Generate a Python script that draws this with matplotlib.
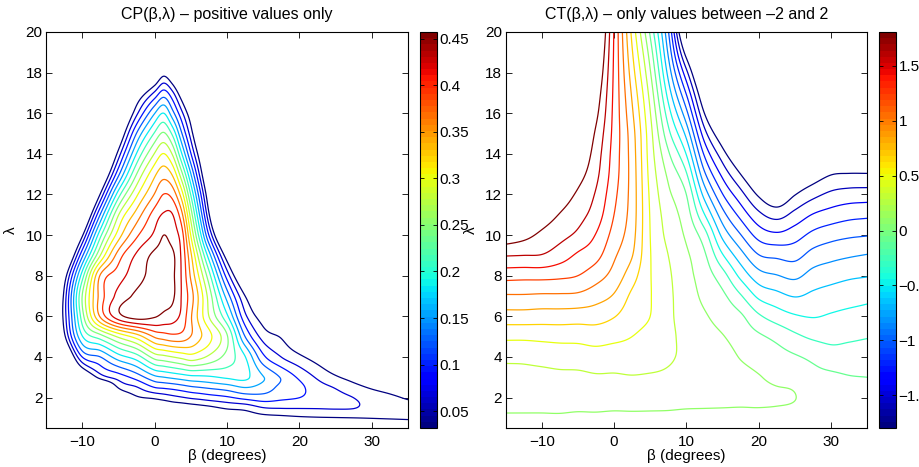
import numpy as np
import matplotlib
matplotlib.use("Agg")
import matplotlib.pyplot as plt
from matplotlib import cm, colors

plt.rcParams['font.family'] = ['Liberation Sans', 'DejaVu Sans']
plt.rcParams['font.size'] = 11

#CP table (negative outside the plotted region), one row per tip speed ratio
cp_beta = [-15, -12.5, -10, -7.5, -5, -2.5, 0, 1.25, 2.5, 3.75, 5, 6.25, 7.5, 10, 12.5, 15, 17.5, 20, 22.5, 25, 27.5, 30, 32.5, 35]
cp_lam = [0, 0.5, 1, 1.5, 2, 2.5, 3, 4, 5, 6, 7, 8, 9, 10, 11, 12, 13, 14, 15, 16, 17, 18, 19, 20]
cp_rows = [
    [0, 0, 0, 0, 0, 0, 0, 0, 0, 0, 0, 0, 0, 0, 0, 0, 0, 0, 0, 0, 0, 0, 0, 0],
    [-0.1, -0.08, -0.06, -0.045, -0.03, -0.02, -0.015, -0.012, -0.01, -0.008, -0.006, -0.004, -0.002, 0.0, 0.003, 0.005, 0.007, 0.008, 0.009, 0.01, 0.011, 0.012, 0.012, 0.013],
    [-0.2, -0.16, -0.12, -0.09, -0.06, -0.04, -0.03, -0.025, -0.02, -0.015, -0.01, -0.005, 0.0, 0.005, 0.012, 0.02, 0.024, 0.028, 0.03, 0.031, 0.032, 0.033, 0.034, 0.035],
    [-0.25, -0.2, -0.15, -0.1, -0.06, -0.03, -0.005, 0.0, 0.007, 0.01, 0.015, 0.02, 0.025, 0.037, 0.043, 0.062, 0.065, 0.065, 0.065, 0.066, 0.064, 0.052, 0.046, 0.042],
    [-0.25, -0.19, -0.13, -0.07, -0.014, 0.026, 0.038, 0.045, 0.053, 0.06, 0.067, 0.072, 0.078, 0.088, 0.103, 0.11, 0.1, 0.093, 0.08, 0.072, 0.062, 0.047, 0.037, 0.029],
    [-0.27, -0.22, -0.15, -0.06, 0.035, 0.06, 0.093, 0.098, 0.103, 0.11, 0.118, 0.123, 0.128, 0.138, 0.154, 0.14, 0.115, 0.1, 0.075, 0.06, 0.041, 0.029, 0.022, 0.018],
    [-0.2, -0.13, -0.036, 0.045, 0.075, 0.105, 0.145, 0.153, 0.16, 0.167, 0.174, 0.176, 0.179, 0.188, 0.19, 0.155, 0.12, 0.087, 0.058, 0.036, 0.022, 0.015, 0.01, 0.008],
    [-0.18, -0.059, 0.093, 0.123, 0.17, 0.2, 0.257, 0.266, 0.275, 0.284, 0.293, 0.284, 0.269, 0.233, 0.185, 0.1, 0.062, 0.038, 0.017, -0.005, -0.015, -0.02, -0.025, -0.03],
    [-0.18, 0.02, 0.181, 0.23, 0.28, 0.318, 0.37, 0.38, 0.387, 0.384, 0.365, 0.34, 0.315, 0.248, 0.123, 0.05, 0.029, -0.004, -0.02, -0.035, -0.045, -0.05, -0.055, -0.06],
    [-0.123, 0.044, 0.23, 0.37, 0.445, 0.47, 0.46, 0.449, 0.44, 0.418, 0.37, 0.322, 0.275, 0.19, 0.07, 0.015, -0.004, -0.04, -0.055, -0.07, -0.08, -0.085, -0.09, -0.09],
    [-0.15, 0.04, 0.245, 0.378, 0.436, 0.462, 0.468, 0.468, 0.462, 0.424, 0.38, 0.324, 0.263, 0.14, 0.032, -0.02, -0.035, -0.075, -0.09, -0.1, -0.11, -0.12, -0.12, -0.12],
    [-0.175, 0.007, 0.199, 0.369, 0.412, 0.445, 0.467, 0.467, 0.462, 0.423, 0.361, 0.296, 0.227, 0.08, -0.03, -0.08, -0.11, -0.13, -0.14, -0.15, -0.15, -0.15, -0.15, -0.15],
    [-0.24, -0.073, 0.116, 0.275, 0.38, 0.431, 0.464, 0.466, 0.462, 0.42, 0.342, 0.255, 0.169, 0.01, -0.1, -0.15, -0.17, -0.18, -0.18, -0.18, -0.18, -0.18, -0.18, -0.18],
    [-0.36, -0.17, 0.025, 0.205, 0.32, 0.39, 0.433, 0.457, 0.442, 0.409, 0.304, 0.198, 0.092, -0.08, -0.18, -0.21, -0.21, -0.21, -0.21, -0.21, -0.21, -0.21, -0.21, -0.21],
    [-0.36, -0.3, -0.07, 0.125, 0.273, 0.348, 0.41, 0.43, 0.427, 0.374, 0.262, 0.149, 0.037, -0.17, -0.24, -0.24, -0.24, -0.24, -0.24, -0.24, -0.24, -0.24, -0.24, -0.24],
    [-0.36, -0.32, -0.15, 0.035, 0.2, 0.299, 0.368, 0.397, 0.384, 0.319, 0.212, 0.105, -0.002, -0.217, -0.27, -0.27, -0.27, -0.27, -0.27, -0.27, -0.27, -0.27, -0.27, -0.27],
    [-0.36, -0.3, -0.21, -0.05, 0.115, 0.244, 0.329, 0.354, 0.33, 0.253, 0.155, 0.056, -0.043, -0.24, -0.3, -0.3, -0.3, -0.3, -0.3, -0.3, -0.3, -0.3, -0.3, -0.3],
    [-0.36, -0.33, -0.26, -0.12, 0.045, 0.185, 0.277, 0.306, 0.27, 0.185, 0.095, 0.012, -0.07, -0.235, -0.33, -0.33, -0.33, -0.33, -0.33, -0.33, -0.33, -0.33, -0.33, -0.33],
    [-0.36, -0.33, -0.29, -0.17, -0.02, 0.124, 0.218, 0.248, 0.206, 0.125, 0.048, -0.031, -0.11, -0.27, -0.36, -0.36, -0.36, -0.36, -0.36, -0.36, -0.36, -0.36, -0.36, -0.36],
    [-0.36, -0.35, -0.31, -0.2, -0.072, 0.054, 0.152, 0.184, 0.133, 0.07, 0.007, -0.057, -0.12, -0.247, -0.36, -0.36, -0.36, -0.36, -0.36, -0.36, -0.36, -0.36, -0.36, -0.36],
    [-0.36, -0.33, -0.3, -0.17, -0.09, -0.008, 0.068, 0.105, 0.068, 0.004, -0.059, -0.123, -0.187, -0.31, -0.36, -0.36, -0.36, -0.36, -0.36, -0.36, -0.36, -0.36, -0.36, -0.36],
    [-0.36, -0.36, -0.33, -0.27, -0.2, -0.12, -0.03, 0.017, -0.02, -0.09, -0.15, -0.21, -0.27, -0.36, -0.36, -0.36, -0.36, -0.36, -0.36, -0.36, -0.36, -0.36, -0.36, -0.36],
    [-0.36, -0.36, -0.36, -0.33, -0.26, -0.18, -0.1, -0.06, -0.09, -0.15, -0.21, -0.27, -0.33, -0.36, -0.36, -0.36, -0.36, -0.36, -0.36, -0.36, -0.36, -0.36, -0.36, -0.36],
    [-0.36, -0.36, -0.36, -0.36, -0.34, -0.27, -0.19, -0.14, -0.17, -0.23, -0.29, -0.34, -0.36, -0.36, -0.36, -0.36, -0.36, -0.36, -0.36, -0.36, -0.36, -0.36, -0.36, -0.36],
]

#CT table
ct_beta = [-15, -12.5, -10, -7.5, -5, -2.5, 0, 2.5, 5, 7.5, 10, 12.5, 15, 17.5, 20, 22.5, 25, 27.5, 30, 32.5, 35]
ct_lam = [0, 1, 2, 3, 4, 5, 6, 7, 8, 9, 10, 11, 12, 13, 14, 15, 16, 17, 18, 19, 20]
ct_rows = [
    [0.02, 0.02, 0.02, 0.02, 0.02, 0.02, 0.02, 0.02, 0.01, 0.01, 0.01, 0.01, 0.005, 0.005, 0.005, 0.005, 0.005, 0.005, 0.005, 0.005, 0.005],
    [0.08, 0.08, 0.08, 0.08, 0.07, 0.07, 0.06, 0.06, 0.06, 0.06, 0.05, 0.05, 0.05, 0.05, 0.05, 0.04, 0.03, 0.01, 0.01, 0.01, 0.01],
    [0.17, 0.17, 0.17, 0.18, 0.18, 0.19, 0.19, 0.20, 0.19, 0.18, 0.17, 0.16, 0.15, 0.14, 0.14, 0.13, 0.105, 0.02, 0.01, 0.01, 0.01],
    [0.23, 0.24, 0.24, 0.25, 0.25, 0.27, 0.27, 0.28, 0.27, 0.26, 0.24, 0.21, 0.18, 0.15, 0.11, 0.06, 0.04, -0.03, -0.05, -0.08, -0.09],
    [0.33, 0.33, 0.35, 0.37, 0.38, 0.40, 0.38, 0.385, 0.37, 0.31, 0.26, 0.20, 0.17, 0.09, 0.03, -0.02, -0.07, -0.13, -0.20, -0.20, -0.19],
    [0.52, 0.52, 0.53, 0.54, 0.54, 0.56, 0.53, 0.48, 0.42, 0.33, 0.24, 0.17, 0.11, 0.02, -0.06, -0.14, -0.24, -0.31, -0.33, -0.31, -0.29],
    [0.78, 0.78, 0.77, 0.77, 0.76, 0.75, 0.68, 0.56, 0.48, 0.33, 0.21, 0.12, 0.03, -0.06, -0.25, -0.37, -0.45, -0.48, -0.45, -0.42, -0.40],
    [1.03, 1.03, 1.02, 1.02, 1.01, 0.94, 0.84, 0.63, 0.49, 0.33, 0.19, 0.06, -0.05, -0.26, -0.51, -0.60, -0.67, -0.62, -0.58, -0.55, -0.52],
    [1.31, 1.30, 1.30, 1.28, 1.24, 1.13, 0.98, 0.75, 0.49, 0.32, 0.16, 0.01, -0.20, -0.52, -0.77, -0.84, -0.89, -0.78, -0.73, -0.69, -0.67],
    [1.63, 1.62, 1.61, 1.52, 1.40, 1.30, 1.08, 0.87, 0.49, 0.29, 0.13, -0.06, -0.45, -0.77, -1.03, -1.08, -1.10, -0.97, -0.91, -0.87, -0.84],
    [1.94, 1.87, 1.77, 1.68, 1.58, 1.42, 1.17, 0.93, 0.48, 0.24, 0.07, -0.20, -0.71, -1.03, -1.30, -1.38, -1.31, -1.18, -1.11, -1.07, -1.05],
    [2.11, 2.04, 1.92, 1.80, 1.69, 1.53, 1.24, 0.96, 0.47, 0.20, 0.00, -0.46, -0.96, -1.29, -1.56, -1.68, -1.55, -1.41, -1.34, -1.29, -1.27],
    [2.23, 2.19, 2.06, 1.92, 1.78, 1.60, 1.29, 0.97, 0.45, 0.14, -0.09, -0.73, -1.22, -1.54, -1.83, -2.00, -1.81, -1.67, -1.57, -1.53, -1.52],
    [2.30, 2.28, 2.17, 2.03, 1.89, 1.67, 1.33, 0.97, 0.42, 0.06, -0.26, -1.00, -1.47, -1.80, -2.09, -2.31, -2.07, -1.93, -1.81, -1.79, -1.79],
    [2.35, 2.35, 2.26, 2.13, 2.00, 1.72, 1.35, 0.96, 0.39, -0.06, -0.48, -1.26, -1.72, -2.06, -2.35, -2.45, -2.32, -2.20, -2.05, -2.05, -2.05],
    [2.40, 2.40, 2.33, 2.21, 2.08, 1.78, 1.37, 0.94, 0.36, -0.22, -0.72, -1.53, -1.98, -2.31, -2.45, -2.50, -2.45, -2.40, -2.30, -2.30, -2.30],
    [2.40, 2.40, 2.38, 2.28, 2.14, 1.86, 1.38, 0.89, 0.30, -0.38, -0.98, -1.80, -2.23, -2.45, -2.50, -2.50, -2.50, -2.50, -2.45, -2.45, -2.45],
    [2.40, 2.40, 2.40, 2.33, 2.19, 1.93, 1.39, 0.83, 0.22, -0.55, -1.25, -2.05, -2.45, -2.50, -2.50, -2.50, -2.50, -2.50, -2.50, -2.50, -2.50],
    [2.40, 2.40, 2.40, 2.37, 2.23, 2.01, 1.40, 0.76, 0.12, -0.72, -1.55, -2.29, -2.50, -2.50, -2.50, -2.50, -2.50, -2.50, -2.50, -2.50, -2.50],
    [2.40, 2.40, 2.40, 2.40, 2.27, 2.09, 1.41, 0.69, 0.01, -0.88, -1.90, -2.45, -2.50, -2.50, -2.50, -2.50, -2.50, -2.50, -2.50, -2.50, -2.50],
    [2.40, 2.40, 2.40, 2.40, 2.30, 2.17, 1.42, 0.62, -0.12, -1.02, -2.25, -2.50, -2.50, -2.50, -2.50, -2.50, -2.50, -2.50, -2.50, -2.50, -2.50],
]

cp_levels = np.linspace(0.032, 0.457, 15)
ct_levels = np.linspace(-1.80, 1.81, 20)
cp_ticks = [0.05, 0.1, 0.15, 0.2, 0.25, 0.3, 0.35, 0.4, 0.45]
cp_ticklabels = ['0.05', '0.1', '0.15', '0.2', '0.25', '0.3', '0.35', '0.4', '0.45']
ct_ticks = [-1.5, -1, -0.5, 0, 0.5, 1, 1.5]
ct_ticklabels = ['\u22121.5', '\u22121', '\u22120.5', '0', '0.5', '1', '1.5']


def hermite(x, y, xn):
    #cubic hermite along axis 0, central difference slopes
    x = np.asarray(x, float)
    m = np.empty_like(y)
    m[1:-1] = (y[2:] - y[:-2]) / (x[2:] - x[:-2])[:, None]
    m[0] = (y[1] - y[0]) / (x[1] - x[0])
    m[-1] = (y[-1] - y[-2]) / (x[-1] - x[-2])
    i = np.clip(np.searchsorted(x, xn) - 1, 0, len(x) - 2)
    h = (x[i + 1] - x[i])[:, None]
    t = ((xn - x[i]) / (x[i + 1] - x[i]))[:, None]
    h00 = 2*t**3 - 3*t**2 + 1
    h10 = t**3 - 2*t**2 + t
    h01 = -2*t**3 + 3*t**2
    h11 = t**3 - t**2
    return h00*y[i] + h10*h*m[i] + h01*y[i + 1] + h11*h*m[i + 1]


def fine_grid(bx, ly, rows, n=400):
    z = np.array(rows, float)
    bf = np.linspace(bx[0], bx[-1], n)
    lf = np.linspace(ly[0], ly[-1], n)
    zl = hermite(ly, z, lf)
    zf = hermite(bx, zl.T.copy(), bf).T
    return bf, lf, zf


jet = plt.get_cmap('jet', 64)
fig = plt.figure(figsize=(9.2, 4.67), dpi=100)

panels = [
    (cp_beta, cp_lam, cp_rows, cp_levels, (0.032, 0.457), cp_ticks, cp_ticklabels,
     'CP(\u03b2,\u03bb) \u2013 positive values only', [0.0500, 0.0835, 0.3935, 0.848], [0.4565, 0.0835, 0.0185, 0.848]),
    (ct_beta, ct_lam, ct_rows, ct_levels, (-1.80, 1.81), ct_ticks, ct_ticklabels,
     'CT(\u03b2,\u03bb) \u2013 only values between \u20132 and 2', [0.5495, 0.0835, 0.3930, 0.848], [0.9554, 0.0835, 0.0190, 0.848]),
]

for bx, lam, rows, levels, lims, ticks, ticklabels, title, pos, cpos in panels:
    ax = fig.add_axes(pos)
    bf, lf, zf = fine_grid(bx, lam, rows)
    norm = colors.Normalize(vmin=lims[0], vmax=lims[1])
    ax.contour(bf, lf, zf, levels=levels, cmap='jet', norm=norm, linewidths=0.9)
    ax.set_xlim(-15, 35)
    ax.set_ylim(0.5, 20)
    ax.set_xticks([-10, 0, 10, 20, 30])
    ax.set_yticks(np.arange(2, 21, 2))
    ax.tick_params(direction='in', top=True, right=True, length=4, width=0.6, labelsize=11)
    ax.tick_params(axis='x', pad=5)
    ax.tick_params(axis='y', pad=2.5)
    for s in ax.spines.values():
        s.set_linewidth(0.8)
    ax.set_title(title, fontsize=11.5, pad=9)
    ax.set_xlabel('\u03b2 (degrees)', fontsize=11, labelpad=0)
    ax.set_ylabel('\u03bb', fontsize=11)
    ax.yaxis.set_label_coords(-0.077, 0.5)

    cax = fig.add_axes(cpos)
    cb = fig.colorbar(cm.ScalarMappable(norm=norm, cmap=jet), cax=cax)
    cb.set_ticks(ticks)
    cb.set_ticklabels(ticklabels)
    cax.tick_params(direction='in', left=True, right=True, length=3, width=0.6, labelsize=11, pad=1.5)
    cb.outline.set_linewidth(0.8)

fig.savefig('out.png', dpi=100)
